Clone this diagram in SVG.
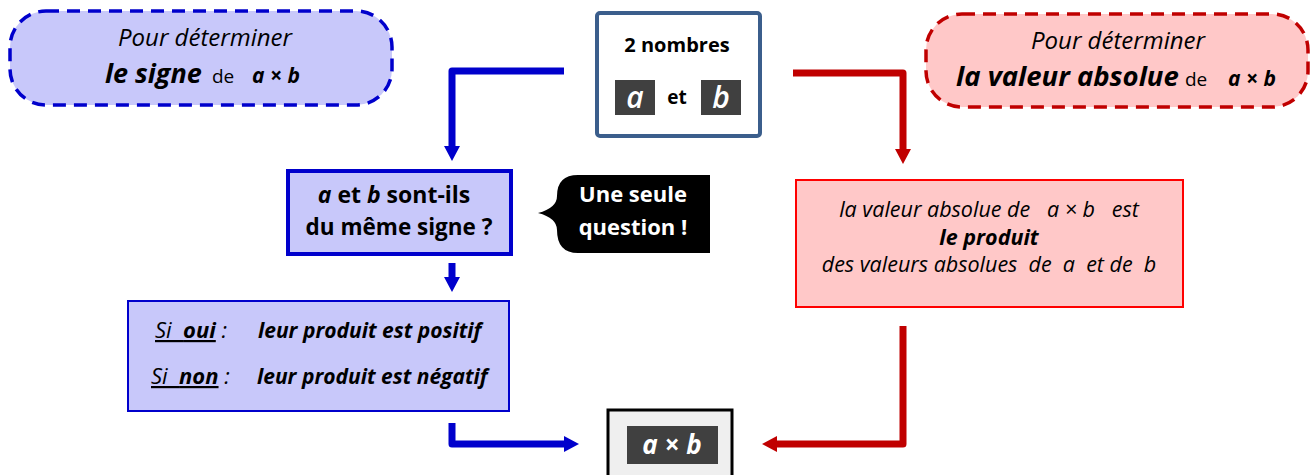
<svg xmlns="http://www.w3.org/2000/svg" width="1312" height="475" viewBox="0 0 1312 475">
<defs>
<style>
text{font-family:"Open Sans","Noto Sans","Liberation Sans",sans-serif;fill:#000}
.b{font-weight:bold}
.i{font-style:italic}
.w{fill:#fff}
.conn{fill:none;stroke-width:7;stroke-linejoin:round}
.blue{stroke:#0000cc}
.red{stroke:#c00000}
</style>
<marker id="ab" markerUnits="userSpaceOnUse" markerWidth="16" markerHeight="16" refX="0" refY="8" orient="auto"><path d="M0,0 L15,8 L0,16 Z" fill="#0000cc"/></marker>
<marker id="ar" markerUnits="userSpaceOnUse" markerWidth="16" markerHeight="16" refX="0" refY="8" orient="auto"><path d="M0,0 L15,8 L0,16 Z" fill="#c00000"/></marker>
</defs>
<rect width="1312" height="475" fill="#fff"/>

<g id="connectors">
<path class="conn blue" d="M564,71 H452 V146" marker-end="url(#ab)"/>
<path class="conn red" d="M793,73 H903 V149" marker-end="url(#ar)"/>
<path class="conn blue" d="M452,263 V277" marker-end="url(#ab)"/>
<path class="conn blue" d="M452,423 V444 H564" marker-end="url(#ab)"/>
<path class="conn red" d="M903,326 V444 H777" marker-end="url(#ar)"/>
</g>

<g id="sign-title">
<rect x="10" y="11" width="382" height="94" rx="36" fill="#c8c8fa" stroke="#0000cc" stroke-width="3.5" stroke-dasharray="13 8"/>
<text x="205" y="46" text-anchor="middle" class="i" font-size="24">Pour déterminer</text>
<text x="105" y="83" class="b i" font-size="27">le signe</text>
<text x="212" y="83" font-size="19">de</text>
<text x="252" y="83" class="b i" font-size="21">a × b</text>
</g>

<g id="numbers">
<rect x="597" y="13" width="163" height="123" rx="3" fill="#fff" stroke="#3b5e8c" stroke-width="4"/>
<text x="677" y="52" text-anchor="middle" class="b" font-size="20">2 nombres</text>
<rect x="615" y="80" width="40" height="35" fill="#404040"/>
<text x="635" y="108" text-anchor="middle" class="i w" font-size="30" font-weight="600">a</text>
<text x="677" y="104" text-anchor="middle" class="b" font-size="19">et</text>
<rect x="701" y="80" width="40" height="35" fill="#404040"/>
<text x="721" y="108" text-anchor="middle" class="i w" font-size="30" font-weight="600">b</text>
</g>

<g id="abs-title">
<rect x="926" y="14" width="382" height="93" rx="36" fill="#ffc8c8" stroke="#c00000" stroke-width="3.5" stroke-dasharray="13 8"/>
<text x="1118" y="49" text-anchor="middle" class="i" font-size="24">Pour déterminer</text>
<text x="956" y="86" class="b i" font-size="27.5">la valeur absolue</text>
<text x="1185" y="86" font-size="19">de</text>
<text x="1228" y="86" class="b i" font-size="21">a × b</text>
</g>

<g id="question">
<rect x="288" y="171" width="223" height="83" fill="#c8c8fa" stroke="#0000cc" stroke-width="4"/>
<text x="394" y="203" text-anchor="middle" class="b" font-size="23"><tspan class="i">a</tspan> et <tspan class="i">b</tspan> sont-ils</text>
<text x="399" y="235" text-anchor="middle" class="b" font-size="22.5">du même signe ?</text>
</g>

<g id="callout">
<path d="M710,175 H578 Q557,175 557,196 Q557,208 538,213 Q557,218 557,230 Q557,253 578,253 H710 Z" fill="#000"/>
<text x="633" y="202" text-anchor="middle" class="b w" font-size="22">Une seule</text>
<text x="633" y="235" text-anchor="middle" class="b w" font-size="22">question !</text>
</g>

<g id="sign-rule">
<rect x="128" y="301" width="381" height="110" fill="#c8c8fa" stroke="#0000cc" stroke-width="2"/>
<text x="155" y="338" font-size="22" xml:space="preserve"><tspan text-decoration="underline"><tspan class="i">Si  </tspan><tspan class="b i">oui</tspan></tspan><tspan class="i"> :</tspan></text>
<text x="258" y="338" class="b i" font-size="21">leur produit est positif</text>
<text x="151" y="384" font-size="22" xml:space="preserve"><tspan text-decoration="underline"><tspan class="i">Si  </tspan><tspan class="b i">non</tspan></tspan><tspan class="i"> :</tspan></text>
<text x="257" y="384" class="b i" font-size="21">leur produit est négatif</text>
</g>

<g id="abs-rule">
<rect x="796" y="180" width="387" height="127" fill="#ffc8c8" stroke="#ff0000" stroke-width="2"/>
<text x="989" y="217" text-anchor="middle" class="i" font-size="21.5" xml:space="preserve">la valeur absolue de   a × b   est</text>
<text x="989" y="245" text-anchor="middle" class="b i" font-size="21.5">le produit</text>
<text x="989" y="272" text-anchor="middle" class="i" font-size="21.5" xml:space="preserve">des valeurs absolues  de  a  et de  b</text>
</g>

<g id="product">
<rect x="608" y="410" width="124" height="75" fill="#efefef" stroke="#000" stroke-width="3"/>
<rect x="627" y="426" width="91" height="38" fill="#404040"/>
<text x="672" y="454" text-anchor="middle" class="b i w" font-size="26">a × b</text>
</g>
</svg>
